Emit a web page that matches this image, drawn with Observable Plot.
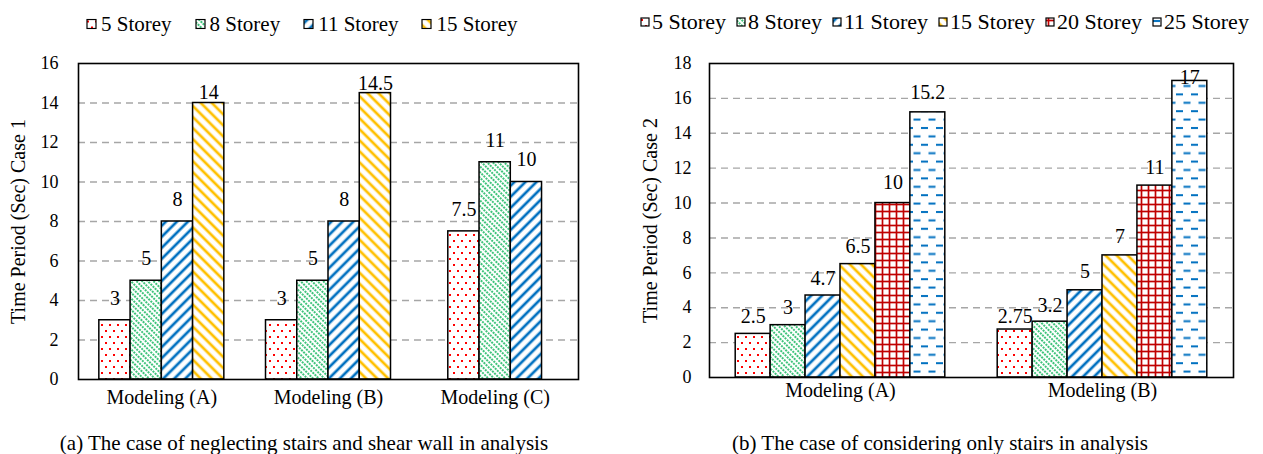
<!DOCTYPE html>
<html>
<head>
<meta charset="utf-8">
<script src="https://cdn.jsdelivr.net/npm/d3@7"></script>
<script src="https://cdn.jsdelivr.net/npm/@observablehq/plot@0.6"></script>
<style>
  body { margin: 0; background: #fff; }
  #page { position: relative; width: 1263px; height: 454px; overflow: hidden;
          font-family: "Liberation Serif", Tinos, "Times New Roman", Times, "DejaVu Serif", serif; color: #000; }
  .panel { position: absolute; top: 40px; }
  .legend { position: absolute; display: flex; align-items: center; white-space: nowrap; transform: translateY(-50%); }
  .legend .item { display: flex; align-items: center; }
  .legend svg { display: block; }
  .caption { position: absolute; white-space: nowrap; font-size: 21px; transform: translate(-50%, -50%); }
</style>
</head>
<body>
<svg width="0" height="0" style="position:absolute">
  <defs>
    <!-- red dots -->
    <pattern id="p5" patternUnits="userSpaceOnUse" width="8" height="12">
      <rect width="8" height="12" fill="#fff"/>
      <rect x="1" y="2" width="2" height="2" fill="#ff0000"/>
      <rect x="5" y="8" width="2" height="2" fill="#ff0000"/>
    </pattern>
    <!-- green dotted downward diagonals -->
    <pattern id="p8" patternUnits="userSpaceOnUse" width="6" height="4" patternTransform="rotate(45)">
      <rect width="6" height="4" fill="#fff"/>
      <line x1="0" y1="2" x2="6" y2="2" stroke="#00b050" stroke-width="1.3" stroke-dasharray="2,1"/>
    </pattern>
    <!-- blue wide upward diagonals -->
    <pattern id="p11" patternUnits="userSpaceOnUse" width="8" height="7.8" patternTransform="rotate(-45)">
      <rect width="8" height="7.8" fill="#fff"/>
      <line x1="0" y1="3.9" x2="8" y2="3.9" stroke="#0070c0" stroke-width="2.7"/>
    </pattern>
    <!-- orange wide downward diagonals -->
    <pattern id="p15" patternUnits="userSpaceOnUse" width="8" height="7.8" patternTransform="rotate(45)">
      <rect width="8" height="7.8" fill="#fff"/>
      <line x1="0" y1="3.9" x2="8" y2="3.9" stroke="#ffc000" stroke-width="2.7"/>
    </pattern>
    <!-- dark red grid -->
    <pattern id="p20" patternUnits="userSpaceOnUse" width="7" height="7">
      <rect width="7" height="7" fill="#fff"/>
      <line x1="3.5" y1="0" x2="3.5" y2="7" stroke="#c00000" stroke-width="1.7"/>
      <line x1="0" y1="3.5" x2="7" y2="3.5" stroke="#c00000" stroke-width="1.7"/>
    </pattern>
    <!-- blue staggered dashes -->
    <pattern id="p25" patternUnits="userSpaceOnUse" width="15" height="16.8">
      <rect width="15" height="16.8" fill="#fff"/>
      <line x1="1" y1="4" x2="8" y2="4" stroke="#0070c0" stroke-width="2"/>
      <line x1="8.5" y1="12.4" x2="15" y2="12.4" stroke="#0070c0" stroke-width="2"/>
      <line x1="0" y1="12.4" x2="0.5" y2="12.4" stroke="#0070c0" stroke-width="2"/>
    </pattern>
  </defs>
</svg>
<div id="page"></div>
<script>
// ---- Case 1: neglecting stairs and shear wall ----
const storeys1 = ["5 Storey", "8 Storey", "11 Storey", "15 Storey"];
const models1 = ["Modeling (A)", "Modeling (B)", "Modeling (C)"];
const case1A = [3, 5, 8, 14];
const case1B = [3, 5, 8, 14.5];
const case1C = [7.5, 11, 10];
const yTicks1 = [0, 2, 4, 6, 8, 10, 12, 14, 16];

// ---- Case 2: considering only stairs ----
const storeys2 = ["5 Storey", "8 Storey", "11 Storey", "15 Storey", "20 Storey", "25 Storey"];
const models2 = ["Modeling (A)", "Modeling (B)"];
const case2A = [2.5, 3, 4.7, 6.5, 10, 15.2];
const case2B = [2.75, 3.2, 5, 7, 11, 17];
const yTicks2 = [0, 2, 4, 6, 8, 10, 12, 14, 16, 18];

const captionA = "(a) The case of neglecting stairs and shear wall in analysis";
const captionB = "(b) The case of considering only stairs in analysis";

const SERIF = "'Liberation Serif', Tinos, 'Times New Roman', Times, 'DejaVu Serif', serif";

// hatch fill for each storey count
const PATTERN = {
  "5 Storey": "url(#p5)", "8 Storey": "url(#p8)", "11 Storey": "url(#p11)",
  "15 Storey": "url(#p15)", "20 Storey": "url(#p20)", "25 Storey": "url(#p25)"
};

// how far (px) each value label sits above its bar
const lift1 = [[22, 22, 22, 10], [22, 22, 22, 10], [22, 22, 22]];
const lift2 = [[17, 18, 17, 18, 20, 20], [13, 16, 19, 19, 18, 3]];

const page = document.getElementById("page");

function drawChart(o) {
  const rows = [];
  o.series.forEach((vals, g) => vals.forEach((v, i) => rows.push({
    model: o.models[g], g, i, n: vals.length, storey: o.storeys[i], value: v, lift: o.lifts[g][i]
  })));
  const w = o.groupShare / o.storeys.length; // bar width in band units
  const x1 = d => d.g + 0.5 + (d.i - d.n / 2) * w;
  const x2 = d => x1(d) + w;
  const xc = d => x1(d) + w / 2;
  const byLift = d3.groups(rows, d => d.lift);

  return Plot.plot({
    width: o.width,
    height: o.height,
    marginLeft: o.margin[3], marginRight: o.margin[1], marginTop: o.margin[0], marginBottom: o.margin[2],
    style: { fontFamily: SERIF, fontSize: "18px", color: "#000", background: "transparent", overflow: "visible" },
    x: { domain: [0, o.models.length], axis: null },
    y: { domain: [0, o.yTicks[o.yTicks.length - 1]], axis: null },
    marks: [
      Plot.ruleY(o.yTicks.slice(1, -1), { stroke: "#a6a6a6", strokeWidth: 1.4, strokeDasharray: "7,5" }),
      ...o.storeys.map(s => Plot.rectY(rows.filter(d => d.storey === s), {
        x1, x2, y: "value", fill: PATTERN[s], stroke: "#000", strokeWidth: 1.5
      })),
      ...byLift.map(([lift, rs]) => Plot.text(rs, {
        x: xc, y: "value", text: d => String(d.value), dy: -lift, fontSize: 20, fill: "#000"
      })),
      Plot.frame({ stroke: "#000", strokeWidth: 1.6 }),
      Plot.axisY({
        ticks: o.yTicks, tickSize: 0, tickPadding: o.tickPadding, fontSize: 18, label: null
      }),
      Plot.axisY({
        ticks: [], tickSize: 0, fontSize: 20,
        label: o.label, labelAnchor: "center", labelOffset: o.labelOffset, labelArrow: "none"
      }),
      Plot.axisX({
        ticks: o.models.map((_, g) => g + 0.5), tickFormat: t => o.models[Math.floor(t)],
        tickSize: 0, tickPadding: o.xPadding, fontSize: 20, label: null
      })
    ]
  });
}

function legend(storeys, left, cy, fontSize, box, textGap, gap) {
  const el = document.createElement("div");
  el.className = "legend";
  el.style.left = left + "px";
  el.style.top = cy + "px";
  el.style.fontSize = fontSize + "px";
  el.style.gap = gap + "px";
  for (const s of storeys) {
    const item = document.createElement("div");
    item.className = "item";
    item.innerHTML = `<svg width="${box + 2}" height="${box + 2}"><rect x="1" y="1" width="${box}" height="${box}" fill="${PATTERN[s]}" stroke="#000" stroke-width="1.2"/></svg><span style="margin-left:${textGap}px">${s}</span>`;
    el.appendChild(item);
  }
  page.appendChild(el);
}

function caption(text, cx, cy) {
  const el = document.createElement("div");
  el.className = "caption";
  el.style.left = cx + "px";
  el.style.top = cy + "px";
  el.textContent = text;
  page.appendChild(el);
}

const left = drawChart({
  series: [case1A, case1B, case1C], models: models1, storeys: storeys1, yTicks: yTicks1,
  lifts: lift1, groupShare: 0.75, label: "Time Period (Sec) Case 1",
  width: 600, height: 380, margin: [23, 22, 41, 78],
  tickPadding: 20, labelOffset: 68, xPadding: 10
});
left.classList.add("panel");
left.style.left = "0px";
page.appendChild(left);

const right = drawChart({
  series: [case2A, case2B], models: models2, storeys: storeys2, yTicks: yTicks2,
  lifts: lift2, groupShare: 0.8, label: "Time Period (Sec) Case 2",
  width: 643, height: 380, margin: [23, 30, 43, 89],
  tickPadding: 18, labelOffset: 67, xPadding: 5
});
right.classList.add("panel");
right.style.left = "620px";
page.appendChild(right);

legend(storeys1, 86, 24, 21, 9, 4, 23);
legend(storeys2, 640, 22, 22, 8, 2, 10);

caption(captionA, 304, 443);
caption(captionB, 940, 443);
</script>
</body>
</html>
